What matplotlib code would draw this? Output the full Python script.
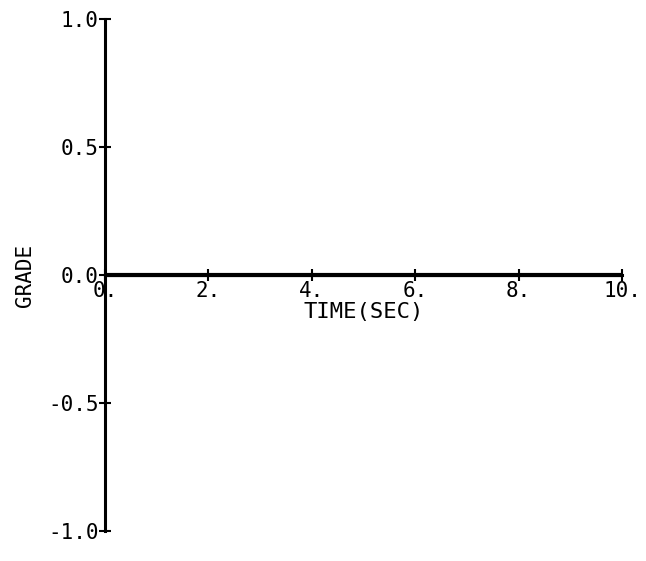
import numpy as np
import matplotlib
matplotlib.use('Agg')
import matplotlib.pyplot as plt

# datos
tiempo = [0.0, 10.0]
grado = [0.0, 0.0]
x_ticks = [0, 2, 4, 6, 8, 10]
x_etiquetas = ['0.', '2.', '4.', '6.', '8.', '10.']
y_ticks = [-1.0, -0.5, 0.0, 0.5, 1.0]
y_etiquetas = ['-1.0', '-0.5', '0.0', '0.5', '1.0']

plt.rcParams['font.family'] = 'DejaVu Sans Mono'

fig = plt.figure(figsize=(6.46, 5.61), dpi=100)
ax = fig.add_axes([105 / 646, 30 / 561, 517 / 646, 512 / 561])

ax.plot(tiempo, grado, color='black', linewidth=3.0, solid_capstyle='butt')

ax.set_xlim(0, 10)
ax.set_ylim(-1, 1)

ax.spines['left'].set_position(('data', 0))
ax.spines['bottom'].set_position(('data', 0))
ax.spines['top'].set_visible(False)
ax.spines['right'].set_visible(False)
for s in ['left', 'bottom']:
    ax.spines[s].set_linewidth(2.2)

ax.set_xticks(x_ticks)
ax.set_xticklabels(x_etiquetas)
ax.set_yticks(y_ticks)
ax.set_yticklabels(y_etiquetas)
ax.tick_params(axis='both', direction='inout', length=9, width=1.5,
               labelsize=15, colors='black')
ax.tick_params(axis='x', pad=0)
ax.tick_params(axis='y', pad=0)

ax.set_xlabel('TIME(SEC)', fontsize=16)
ax.xaxis.set_label_coords(0.5, 0.448)
ax.set_ylabel('GRADE', fontsize=15)
ax.yaxis.set_label_coords(-0.135, 0.5)

fig.savefig('out.png', dpi=100)
